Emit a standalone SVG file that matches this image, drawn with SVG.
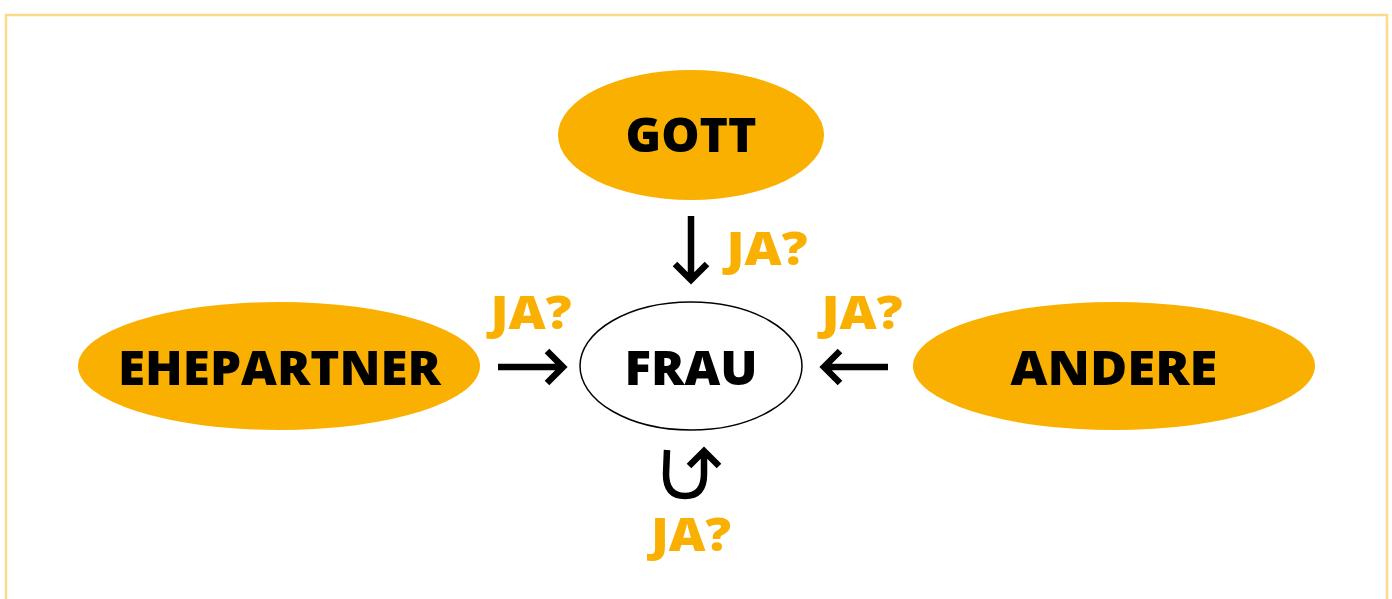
<svg xmlns="http://www.w3.org/2000/svg" width="1392" height="599" viewBox="0 0 1392 599">
<style>
.node{fill:#F9B000}
.lbl{font-family:"Open Sans","Noto Sans","DejaVu Sans",sans-serif;font-weight:800;font-size:48px;fill:#000;text-anchor:middle}
.ja{font-family:"Open Sans","Noto Sans","DejaVu Sans",sans-serif;font-weight:800;font-size:46px;fill:#F9B000;text-anchor:middle}
.arr{fill:none;stroke:#000;stroke-width:6.5;stroke-linecap:butt;stroke-linejoin:miter}
</style>
<rect x="0" y="0" width="1392" height="599" fill="#fff"/>
<path d="M6,610 V15 H1387 V610" fill="none" stroke="#FDD98C" stroke-width="2.5"/>
<g id="gott"><ellipse class="node" cx="691" cy="135" rx="133" ry="65"/><text class="lbl" x="691" y="152" textLength="131" lengthAdjust="spacingAndGlyphs">GOTT</text></g>
<g id="ehepartner"><ellipse class="node" cx="279" cy="366" rx="201" ry="64"/><text class="lbl" x="279.5" y="385" textLength="323" lengthAdjust="spacingAndGlyphs">EHEPARTNER</text></g>
<g id="frau"><ellipse cx="691" cy="366" rx="111" ry="64" fill="#fff" stroke="#000" stroke-width="1.5"/><text class="lbl" x="691" y="385" textLength="133" lengthAdjust="spacingAndGlyphs">FRAU</text></g>
<g id="andere"><ellipse class="node" cx="1114" cy="366" rx="201" ry="64"/><text class="lbl" x="1114" y="385" textLength="207" lengthAdjust="spacingAndGlyphs">ANDERE</text></g>
<g id="connectors">
<path class="arr" d="M691,216 V281 M675,264 L691,280 L707,264"/>
<text class="ja" x="767" y="265" textLength="81" lengthAdjust="spacingAndGlyphs">JA?</text>
<path class="arr" d="M498,367 H563 M547,351 L563,367 L547,383"/>
<text class="ja" x="531" y="329" textLength="81" lengthAdjust="spacingAndGlyphs">JA?</text>
<path class="arr" d="M888,367 H824 M840,351 L824,367 L840,383"/>
<text class="ja" x="862" y="329" textLength="81" lengthAdjust="spacingAndGlyphs">JA?</text>
<path class="arr" d="M667,450 L666,474 Q666,496 685,496 Q704,496 704,474 L704,453 M689,466 L704,451 L719,466"/>
<text class="ja" x="691" y="551" textLength="80" lengthAdjust="spacingAndGlyphs">JA?</text>
</g>
</svg>
